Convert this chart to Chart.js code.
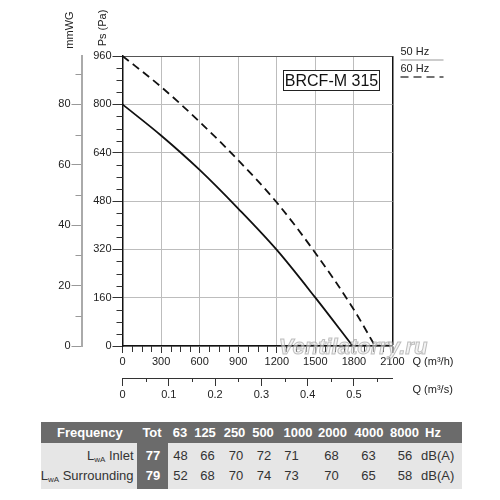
<!DOCTYPE html>
<html>
<head>
<meta charset="utf-8">
<script src="https://cdn.jsdelivr.net/npm/chart.js@4.4.1/dist/chart.umd.min.js"></script>
<style>
  body { margin: 0; background: #fff; font-family: "Liberation Sans", Arial, sans-serif; }
  #wrap { position: absolute; left: 0; top: 0; width: 500px; height: 410px; }
  #tbl { position: absolute; left: 41px; top: 422px; width: 421px; height: 67px; background: #e6e6e6; }
  #tbl .band { position: absolute; left: 0; top: 0; width: 421px; height: 21px; background: #6b6b6b; }
  #tbl .tot { position: absolute; left: 96px; top: 21px; width: 31px; height: 46px; background: #6b6b6b; }
  #tbl span { position: absolute; font-size: 13px; line-height: 16px; white-space: nowrap; color: #333; }
  #tbl span.h { color: #fff; font-weight: bold; }
  #tbl sub { font-size: 8px; vertical-align: -2px; }
</style>
</head>
<body>
<div id="wrap"><canvas id="fan"></canvas></div>
<div id="tbl"><div class="band"></div><div class="tot"></div></div>
<script>
// fan curve, static pressure (Pa) against airflow (m3/h)
const q50 = [0, 300, 600, 900, 1200, 1500, 1790];
const ps50 = [800, 697, 583, 455, 318, 160, 0];
const q60 = [0, 300, 600, 900, 1200, 1500, 1800, 1964];
const ps60 = [960, 858, 742, 615, 475, 308, 120, 0];
const seriesNames = ['50 Hz', '60 Hz'];

const mmTicks = [0, 20, 40, 60, 80];
const m3sTicks = [0, 0.1, 0.2, 0.3, 0.4, 0.5];

// sound table
const bands = ['63', '125', '250', '500', '1000', '2000', '4000', '8000'];
const rowNames = ['Inlet', 'Surrounding'];
const totals = [77, 79];
const inletLw = [48, 66, 70, 72, 71, 68, 63, 56];
const surroundLw = [52, 68, 70, 74, 73, 70, 65, 58];

const toPts = (xs, ys) => xs.map((x, i) => ({ x: x, y: ys[i] }));

const decor = {
  id: 'decor',
  afterDraw(chart) {
    const { ctx, chartArea: a, scales } = chart;
    ctx.save();
    // minor ticks
    ctx.strokeStyle = '#333';
    ctx.lineWidth = 1;
    ctx.beginPath();
    for (let v = 40; v < 960; v += 40) {
      if (v % 160 === 0) continue;
      const y = Math.round(scales.y.getPixelForValue(v)) + 0.5;
      ctx.moveTo(a.left - 6, y); ctx.lineTo(a.left, y);
    }
    for (let v = 75; v < 2100; v += 75) {
      if (v % 300 === 0) continue;
      const x = Math.round(scales.x.getPixelForValue(v)) + 0.5;
      ctx.moveTo(x, a.bottom); ctx.lineTo(x, a.bottom + 6);
    }
    for (let v = 0.05; v < 0.58; v += 0.1) {
      const x = Math.round(scales.x2.getPixelForValue(v)) + 0.5;
      ctx.moveTo(x, scales.x2.top); ctx.lineTo(x, scales.x2.top + 4);
    }
    ctx.stroke();
    ctx.strokeStyle = '#999';
    ctx.beginPath();
    for (let v = 10; v < 96; v += 20) {
      const y = Math.round(scales.mm.getPixelForValue(v)) + 0.5;
      ctx.moveTo(scales.mm.right - 6, y); ctx.lineTo(scales.mm.right, y);
    }
    ctx.stroke();

    // axis titles
    ctx.fillStyle = '#222';
    ctx.font = '11px "Liberation Sans", Arial';
    ctx.textBaseline = 'middle';
    ctx.textAlign = 'center';
    [['Ps (Pa)', 103, 28], ['mmWG', 70, 30]].forEach(t => {
      ctx.save();
      ctx.translate(t[1], t[2]);
      ctx.rotate(-Math.PI / 2);
      ctx.fillText(t[0], 0, 0);
      ctx.restore();
    });
    ctx.textAlign = 'left';
    ctx.fillText('Q (m³/h)', a.right + 20, a.bottom + 16);
    ctx.fillText('Q (m³/s)', a.right + 20, scales.x2.top + 12);

    // legend, line under each label
    chart.data.datasets.forEach((ds, i) => {
      const y = 52 + i * 17;
      ctx.fillStyle = '#222';
      ctx.fillText(ds.label, a.right + 8, y);
      ctx.strokeStyle = i === 0 ? '#999' : '#444';
      ctx.lineWidth = i === 0 ? 1 : 1.5;
      ctx.setLineDash(ds.borderDash || []);
      ctx.beginPath();
      ctx.moveTo(a.right + 8, y + 8); ctx.lineTo(a.right + 51, y + 8);
      ctx.stroke();
      ctx.setLineDash([]);
    });

    // model label
    ctx.fillStyle = '#fff';
    ctx.fillRect(283.5, 70.5, 96, 20);
    ctx.strokeStyle = '#222';
    ctx.lineWidth = 1;
    ctx.strokeRect(283.5, 70.5, 96, 20);
    ctx.fillStyle = '#111';
    ctx.font = '16px "Liberation Sans", Arial';
    ctx.textAlign = 'center';
    ctx.fillText('BRCF-M 315', 331.5, 81.5);

    // watermark
    ctx.font = 'italic bold 22px "Liberation Sans", Arial';
    ctx.fillStyle = 'rgba(235,235,235,0.55)';
    ctx.strokeStyle = 'rgba(150,150,150,0.6)';
    ctx.lineWidth = 1;
    ctx.fillText('Ventilatorry.ru', 353, 348);
    ctx.strokeText('Ventilatorry.ru', 353, 348);
    ctx.restore();
  }
};

const tickFont = { family: '"Liberation Sans", Arial', size: 11 };

new Chart(document.getElementById('fan'), {
  type: 'line',
  data: {
    datasets: [{
      label: seriesNames[0],
      data: toPts(q50, ps50),
      borderColor: '#111',
      borderWidth: 1.8,
      pointRadius: 0,
      cubicInterpolationMode: 'monotone',
      xAxisID: 'x', yAxisID: 'y'
    }, {
      label: seriesNames[1],
      data: toPts(q60, ps60),
      borderColor: '#111',
      borderWidth: 1.8,
      borderDash: [8, 5],
      pointRadius: 0,
      cubicInterpolationMode: 'monotone',
      xAxisID: 'x', yAxisID: 'y'
    }]
  },
  options: {
    responsive: true,
    maintainAspectRatio: false,
    animation: false,
    layout: { padding: { left: 51.5, right: 107.5, top: 56, bottom: 6 } },
    plugins: { legend: { display: false }, tooltip: { enabled: false } },
    scales: {
      x: {
        type: 'linear', position: 'bottom', weight: 0,
        min: 0, max: 2100,
        ticks: { stepSize: 300, font: tickFont, color: '#222', padding: 2, maxRotation: 0,
                 callback: v => String(v) },
        grid: {
          color: c => c.tick.value === 2100 ? '#111' : '#bdbdbd',
          lineWidth: c => c.tick.value === 2100 ? 1.5 : 1,
          tickColor: '#333', tickLength: 7
        },
        border: { color: '#111', width: 1.5 },
        afterFit: s => { s.height = 32; }
      },
      x2: {
        type: 'linear', position: 'bottom', weight: 1,
        min: 0, max: 2100 / 3600,
        afterBuildTicks: s => { s.ticks = m3sTicks.map(v => ({ value: v })); },
        ticks: { font: tickFont, color: '#222', padding: 2, maxRotation: 0,
                 callback: v => v === 0 ? '0' : v.toFixed(1) },
        grid: { drawOnChartArea: false, tickColor: '#333', tickLength: 8 },
        border: { color: '#333', width: 1 },
        afterFit: s => { s.height = 26; }
      },
      y: {
        type: 'linear', position: 'left', weight: 0,
        min: 0, max: 960,
        ticks: { stepSize: 160, font: tickFont, color: '#222', padding: 1 },
        grid: {
          color: c => c.tick.value === 960 ? '#555' : '#bdbdbd',
          tickColor: '#333', tickLength: 10
        },
        border: { color: '#111', width: 1.5 },
        afterFit: s => { s.width = 41; }
      },
      mm: {
        type: 'linear', position: 'left', weight: 1,
        min: 0, max: 96,
        afterBuildTicks: s => { s.ticks = mmTicks.map(v => ({ value: v })); },
        ticks: { font: tickFont, color: '#222', padding: 1 },
        grid: { drawOnChartArea: false, tickColor: '#999', tickLength: 10 },
        border: { color: '#aaa', width: 2 },
        afterFit: s => { s.width = 30; }
      }
    }
  },
  plugins: [decor]
});

// sound power table, positions relative to the table box
const tbl = document.getElementById('tbl');
const headX = [139, 164, 193.5, 222, 257, 291.5, 328, 363.5];
const valX = [139.5, 166.5, 195, 223, 250.5, 290.5, 327.5, 364];
function cell(html, x, y, align, cls) {
  const s = document.createElement('span');
  s.innerHTML = html;
  if (cls) s.className = cls;
  s.style.top = y + 'px';
  if (align === 'center') { s.style.left = x + 'px'; s.style.transform = 'translateX(-50%)'; }
  else if (align === 'right') { s.style.right = (421 - x) + 'px'; }
  else s.style.left = x + 'px';
  tbl.appendChild(s);
}
cell('Frequency', 16, 2.5, 'left', 'h');
cell('Tot', 111, 2.5, 'center', 'h');
bands.forEach((b, i) => cell(b, headX[i], 2.5, 'center', 'h'));
cell('Hz', 384, 2.5, 'left', 'h');
[inletLw, surroundLw].forEach((row, r) => {
  const y = 26 + r * 19.5;
  cell('L<sub>wA</sub> ' + rowNames[r], 92.5, y, 'right');
  cell(String(totals[r]), 112, y, 'center', 'h');
  row.forEach((v, i) => cell(String(v), valX[i], y, 'center'));
  cell('dB(A)', 380, y, 'left');
});
</script>
</body>
</html>
